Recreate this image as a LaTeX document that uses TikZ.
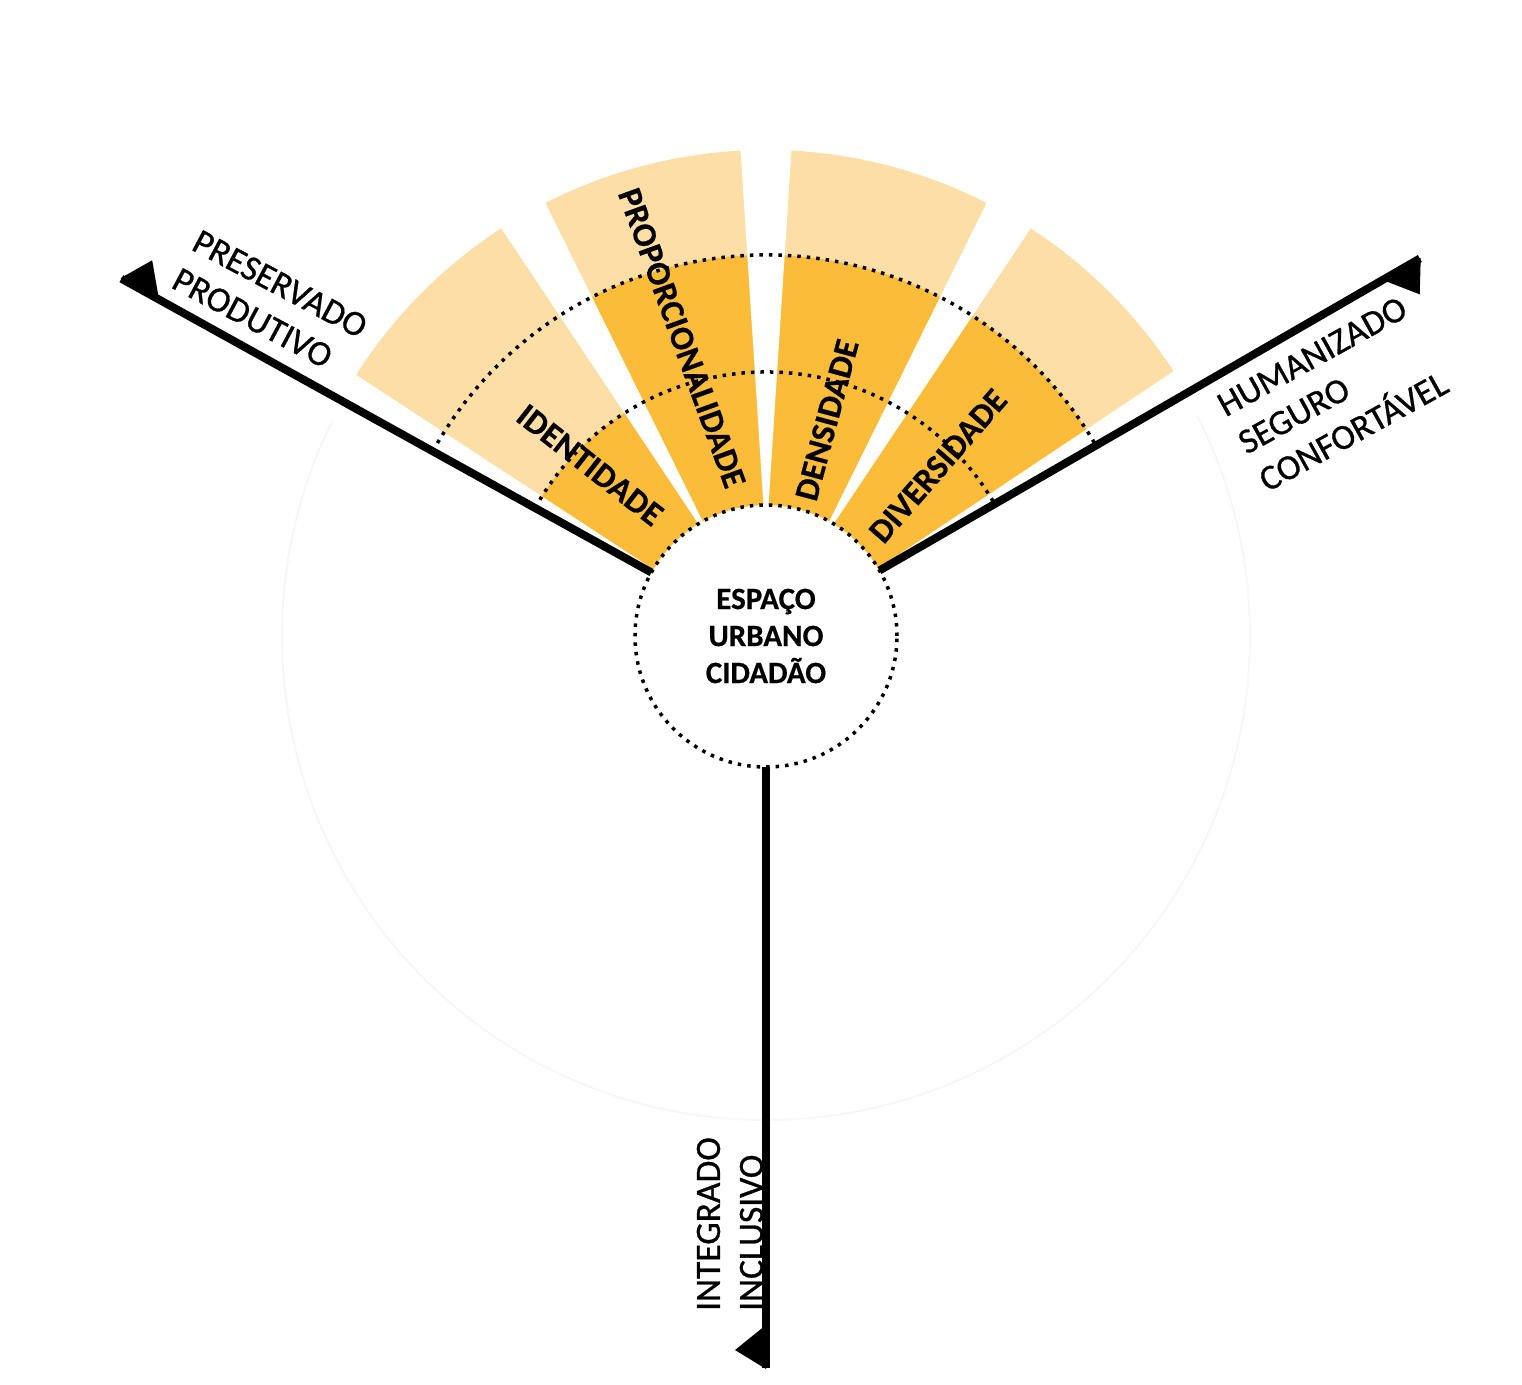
\documentclass[tikz,border=0pt]{standalone}
\usepackage{fontspec}
\setmainfont{Carlito}
\newfontfamily\axisfont[FakeBold=0.8]{Carlito}
\newfontfamily\heavyfont[FakeBold=0.5]{Carlito}
\definecolor{lightor}{HTML}{FDDEA7}
\definecolor{darkor}{HTML}{FBBC3A}
\begin{document}
\begin{tikzpicture}[x=1pt,y=1pt,
  axisline/.style={line width=8pt},
  dotline/.style={line width=3.5pt, dash pattern=on 3.5pt off 6pt},
  fanlabel/.style={font=\fontsize{34}{40}\selectfont\heavyfont\bfseries, inner sep=0pt},
  axislabel/.style={font=\fontsize{35.5}{43}\selectfont\axisfont, align=left, inner sep=0pt},
  tiptri/.style={fill=black},
]
\useasboundingbox (-766,-748) rectangle (756,636);
\def\Ri{131}\def\Rm{264}\def\Rd{381}\def\Ro{486}
% faint outer circle
\draw[black!3, line width=2pt] (0,0) circle[radius=484];
% light fan
\fill[lightor] (150.5:\Ri) -- (150.5:\Ro) arc[start angle=150.5, end angle=30, radius=\Ro]
  -- (30:\Ri) arc[start angle=30, end angle=150.5, radius=\Ri] -- cycle;
% dark parts
\fill[darkor] (150.5:\Ri) -- (150.5:\Rm) arc[start angle=150.5, end angle=120, radius=\Rm]
  -- (120:\Ri) arc[start angle=120, end angle=150.5, radius=\Ri] -- cycle;
\fill[darkor] (120:\Ri) -- (120:\Rd) arc[start angle=120, end angle=30, radius=\Rd]
  -- (30:\Ri) arc[start angle=30, end angle=120, radius=\Ri] -- cycle;
% gaps
\foreach \a in {30,60,90,120,150.5}
  \fill[white, shift={(\a:92)}] (0,0) -- (\a+3.7:540) -- (\a-3.7:540) -- cycle;
% dotted arcs
\draw[dotline] (151:\Rm) arc[start angle=151, end angle=30, radius=\Rm];
\draw[dotline] (151:\Rd) arc[start angle=151, end angle=30, radius=\Rd];
% centre
\node[circle, draw, dotline, minimum size=262pt, inner sep=0pt, outer sep=0pt,
  align=center, font=\fontsize{31}{37}\selectfont\heavyfont\bfseries] (core) at (0,0)
  {ESPAÇO\\URBANO\\CIDADÃO};
% axes
\coordinate (tipL) at (151:737);
\coordinate (tipR) at (30:755);
\coordinate (tipB) at (270:732);
\draw[axisline] (core.151) -- (tipL);
\draw[axisline] (core.30) -- (tipR);
\draw[axisline] (core.270) -- (tipB);
\fill[tiptri, rotate=151] (738,0) -- (694,0) -- (719,-31) -- cycle;
\fill[tiptri, rotate=30] (756,0) -- (712,0) -- (737,-31) -- cycle;
\fill[tiptri, rotate=270] (733,0) -- (689,0) -- (714,-31) -- cycle;
% axis labels
\node[axislabel, rotate=-28] (lblL) at (-496,333) {PRESERVADO\\PRODUTIVO};
\node[axislabel, rotate=29] (lblR) at (567,242) {HUMANIZADO\\SEGURO\\CONFORTÁVEL};
\node[axislabel, rotate=90] (lblB) at (-36,-588) {INTEGRADO\\INCLUSIVO};
% fan labels
\node[fanlabel, rotate=-38] (f1) at (-176,171) {IDENTIDADE};
\node[fanlabel, rotate=-70] (f2) at (-84,298) {PROPORCIONALIDADE};
\node[fanlabel, rotate=75] (f3) at (61,216) {DENSIDADE};
\node[fanlabel, rotate=49] (f4) at (172,170) {DIVERSIDADE};
\end{tikzpicture}
\end{document}
